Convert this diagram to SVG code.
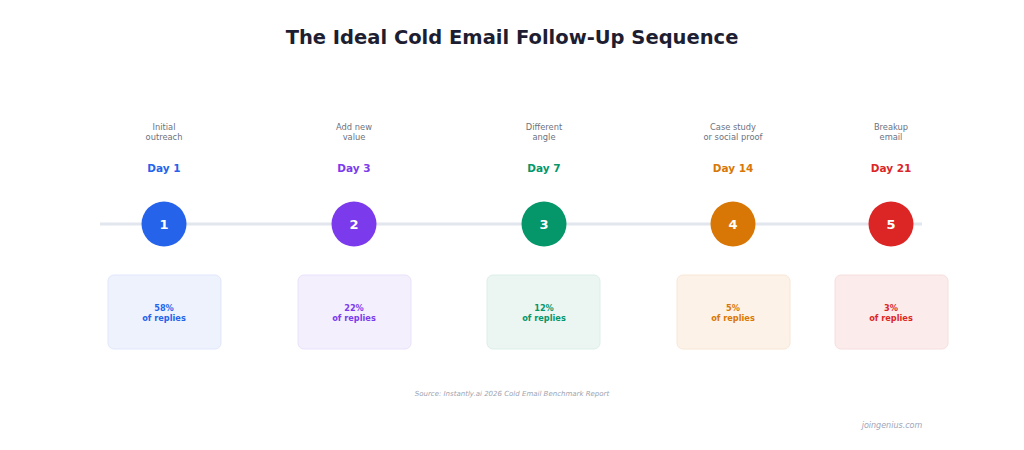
<svg xmlns="http://www.w3.org/2000/svg" width="1024" height="450" viewBox="0 0 1024 450">
<style>
text{font-family:"DejaVu Sans",sans-serif;text-anchor:middle}
.title{font-size:19.5px;font-weight:bold;fill:#1e1e32}
.desc{font-size:8.3px;fill:#6b7280}
.day{font-size:10.5px;font-weight:bold}
.num{font-size:13px;font-weight:bold;fill:#fff}
.stat{font-size:8.2px;font-weight:bold}
.src{font-size:7px;font-style:italic;fill:#9ca3af}
.brand{font-size:8px;font-style:italic;fill:#a0a4b8}
</style>
<rect width="1024" height="450" fill="#fff"/>
<text class="title" x="512" y="44">The Ideal Cold Email Follow-Up Sequence</text>
<g id="connectors"><line x1="100" y1="224" x2="922" y2="224" stroke="#e2e6ee" stroke-width="3"/></g>
<g id="step1">
<text class="desc" x="164" y="130">Initial</text><text class="desc" x="164" y="140">outreach</text>
<text class="day" x="164" y="172" fill="#2563eb">Day 1</text>
<circle cx="164" cy="224" r="22.5" fill="#2563eb"/><text class="num" x="164" y="229">1</text>
<rect x="108" y="275" width="113" height="74" rx="6" fill="#eef2fd" stroke="#e0e7fb"/>
<text class="stat" x="164" y="311" fill="#2563eb">58%</text><text class="stat" x="164" y="321" fill="#2563eb">of replies</text>
</g>
<g id="step2">
<text class="desc" x="354" y="130">Add new</text><text class="desc" x="354" y="140">value</text>
<text class="day" x="354" y="172" fill="#7c3aed">Day 3</text>
<circle cx="354" cy="224" r="22.5" fill="#7c3aed"/><text class="num" x="354" y="229">2</text>
<rect x="298" y="275" width="113" height="74" rx="6" fill="#f3effd" stroke="#e9e1fb"/>
<text class="stat" x="354" y="311" fill="#7c3aed">22%</text><text class="stat" x="354" y="321" fill="#7c3aed">of replies</text>
</g>
<g id="step3">
<text class="desc" x="544" y="130">Different</text><text class="desc" x="544" y="140">angle</text>
<text class="day" x="544" y="172" fill="#059669">Day 7</text>
<circle cx="544" cy="224" r="22.5" fill="#059669"/><text class="num" x="544" y="229">3</text>
<rect x="487" y="275" width="113" height="74" rx="6" fill="#ebf5f1" stroke="#dcefe7"/>
<text class="stat" x="544" y="311" fill="#059669">12%</text><text class="stat" x="544" y="321" fill="#059669">of replies</text>
</g>
<g id="step4">
<text class="desc" x="733" y="130">Case study</text><text class="desc" x="733" y="140">or social proof</text>
<text class="day" x="733" y="172" fill="#d97706">Day 14</text>
<circle cx="733" cy="224" r="22.5" fill="#d97706"/><text class="num" x="733" y="229">4</text>
<rect x="677" y="275" width="113" height="74" rx="6" fill="#fcf2e8" stroke="#f8e7d6"/>
<text class="stat" x="733" y="311" fill="#d97706">5%</text><text class="stat" x="733" y="321" fill="#d97706">of replies</text>
</g>
<g id="step5">
<text class="desc" x="891" y="130">Breakup</text><text class="desc" x="891" y="140">email</text>
<text class="day" x="891" y="172" fill="#dc2626">Day 21</text>
<circle cx="891" cy="224" r="22.5" fill="#dc2626"/><text class="num" x="891" y="229">5</text>
<rect x="835" y="275" width="113" height="74" rx="6" fill="#fbebeb" stroke="#f7dede"/>
<text class="stat" x="891" y="311" fill="#dc2626">3%</text><text class="stat" x="891" y="321" fill="#dc2626">of replies</text>
</g>
<text class="src" x="512" y="396">Source: Instantly.ai 2026 Cold Email Benchmark Report</text>
<text class="brand" x="892" y="428">joingenius.com</text>
</svg>
